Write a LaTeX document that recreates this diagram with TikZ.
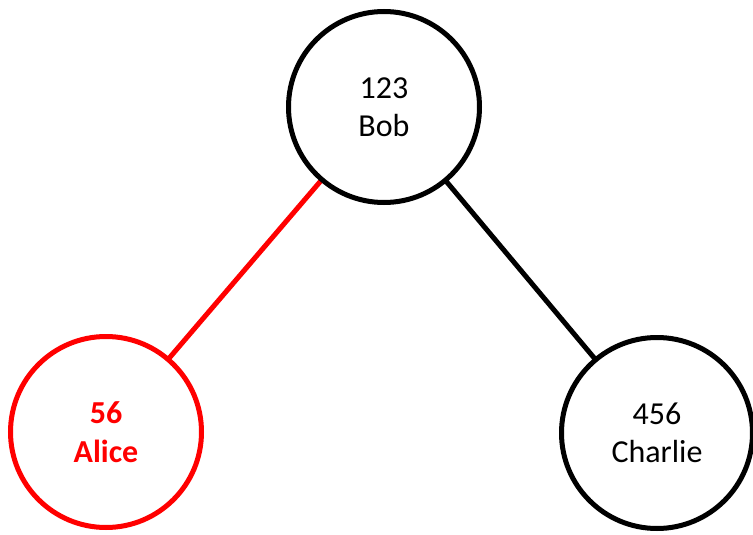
\documentclass[tikz,border=0pt]{standalone}
\usepackage{fontspec}
\setmainfont{Carlito}
\begin{document}
\begin{tikzpicture}[x=1pt,y=-1pt,
  person/.style={circle, draw=black, line width=5pt, minimum size=191pt, inner sep=0pt, fill=white},
  label/.style={align=center, font=\fontsize{32}{38.5}\selectfont},
  boldlabel/.style={label, font=\fontsize{32}{38.5}\selectfont\bfseries},
  link/.style={line width=5pt}]
\useasboundingbox (0,0) rectangle (753,535);
% node centres
\coordinate (b) at (384,107);
\coordinate (a) at (106,432);
\coordinate (c) at (657,433);
% connectors (drawn first, circles on top)
\draw[link, red] (b) -- (a);
\draw[link, black] (b) -- (c);
% circles with their labels
\node[person, label] (bob) at (b) {123\\Bob};
\node[person, boldlabel, draw=red, text=red] (alice) at (a) {56\\Alice};
\node[person, label] (charlie) at (c) {456\\Charlie};
\end{tikzpicture}
\end{document}
